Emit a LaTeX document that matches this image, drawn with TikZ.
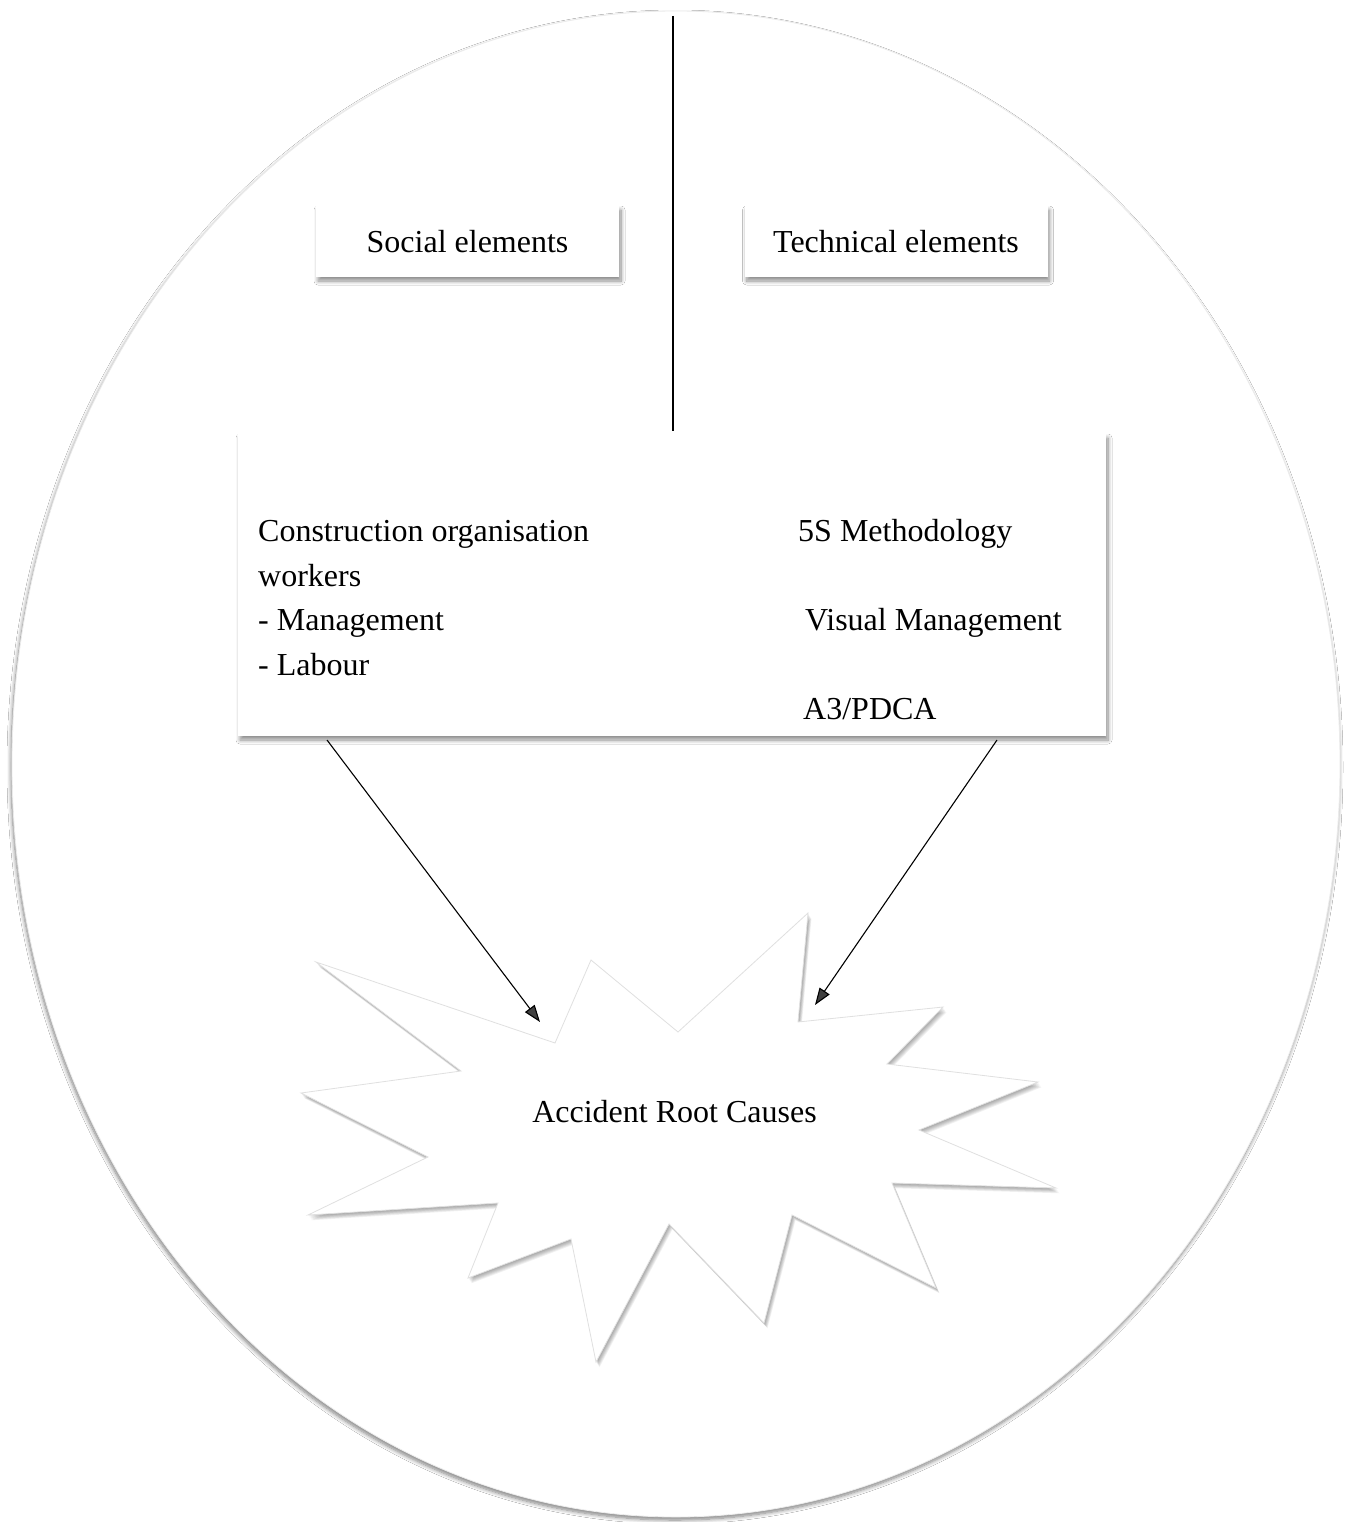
\documentclass[tikz,border=0pt]{standalone}
\usepackage{fontspec}
\setmainfont{Liberation Serif}
\usetikzlibrary{arrows.meta,shadows.blur}
\begin{document}
\begin{tikzpicture}[x=1pt,y=-1pt,
  softshadow/.style={blur shadow={shadow xshift=2pt,shadow yshift=-4pt,shadow blur steps=10,shadow blur radius=4pt,shadow opacity=45}},
  elembox/.style={fill=white,softshadow,minimum width=303pt,minimum height=71pt,inner sep=0pt,font=\fontsize{32}{38}\selectfont},
  itemtext/.style={anchor=base west,inner sep=0pt,font=\fontsize{32}{38}\selectfont},
  connector/.style={line width=1.1pt,-{Triangle[length=17pt,width=12pt]}}
]
\useasboundingbox (0,0) rectangle (1347,1522);
\fill[white] (0,0) rectangle (1347,1522);

% enclosing ellipse
\path[fill=white,draw=black!8,line width=0.8pt,
  blur shadow={shadow xshift=-1pt,shadow yshift=-3pt,shadow blur steps=8,shadow blur radius=4pt,shadow opacity=50}]
  (676,764) ellipse [x radius=664pt,y radius=753pt];

% dividing line between the two element groups
\coordinate (divtop) at (673,16);
\coordinate (divbot) at (673,431);
\draw[line width=1.1pt] (divtop) -- (divbot);

% group headings
\node[elembox] (social) at (467.5,241.5) {Social elements};
\node[elembox] (technical) at (896,241.5) {Technical elements};

% element list box
\node[fill=white,softshadow,minimum width=868pt,minimum height=302pt,inner sep=0pt] (elements) at (672,585) {};
\node[itemtext] (cow) at (258,541) {Construction organisation};
\node[itemtext] (wrk) at (258,586) {workers};
\node[itemtext] (mgt) at (258,630) {- Management};
\node[itemtext] (lab) at (258,675) {- Labour};
\node[itemtext] (fives) at (798,541) {5S Methodology};
\node[itemtext] (vis) at (805,630) {Visual Management};
\node[itemtext] (pdca) at (803,719) {A3/PDCA};

% starburst of root causes: layered soft shadow, then the white shape
\def\burstpts{(316,962) -- (555,1043) -- (591,960) -- (678,1032) -- (808,913) -- (798,1022)
  -- (943,1007) -- (887,1064) -- (1038,1082) -- (919,1130) -- (1056,1188)
  -- (892,1183) -- (936,1288) -- (792,1215) -- (764,1323) -- (669,1224)
  -- (596,1362) -- (571,1239) -- (468,1278) -- (498,1203) -- (308,1215)
  -- (428,1157) -- (301,1093) -- (461,1071) -- cycle}
\foreach \k in {1,...,7}{
  \fill[black,opacity=0.055,shift={(\k*0.5,\k*0.75)}] \burstpts;
}
\filldraw[fill=white,draw=black!12,line width=0.8pt,line join=miter] \burstpts;
\node[font=\fontsize{32}{38}\selectfont,inner sep=0pt] (burst) at (674.5,1112) {Accident Root Causes};

% connectors from the element box into the starburst
\coordinate (socstart) at (327,740);
\coordinate (socend) at (540,1022);
\coordinate (techstart) at (997,740);
\coordinate (techend) at (815,1005);
\draw[connector] (socstart) -- (socend);
\draw[connector] (techstart) -- (techend);
\end{tikzpicture}
\end{document}
